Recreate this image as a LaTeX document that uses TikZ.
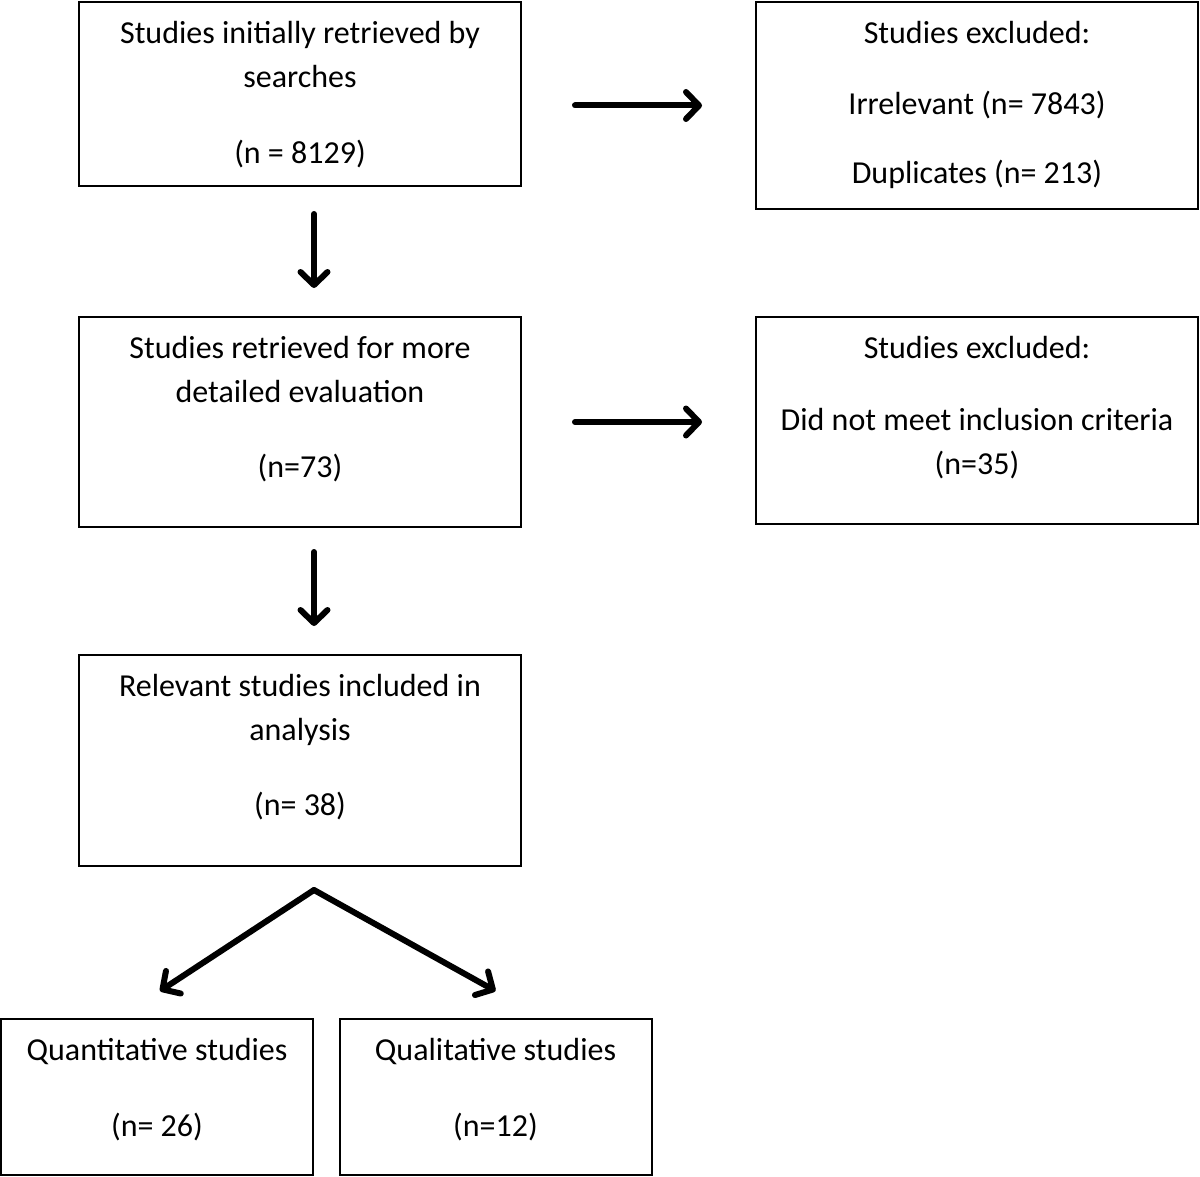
\documentclass[tikz,border=0pt]{standalone}
\usepackage{fontspec}
\setmainfont{Carlito}
\usetikzlibrary{positioning}
\usetikzlibrary{arrows.meta}

\tikzset{
	box/.style={draw, line width=1pt, minimum width=221pt, minimum height=#1, inner sep=0pt},
	box/.default=105pt,
	smallbox/.style={draw, line width=1pt, minimum width=156pt, minimum height=78pt, inner sep=0pt},
	txt/.style={align=center, inner sep=0pt, font=\fontsize{16}{22}\selectfont},
	arr/.style={line width=3pt, line cap=round, -{Straight Barb[length=6.5pt,width=13.5pt,round]}}
}

\begin{document}
\begin{tikzpicture}[x=0.5pt,y=-0.5pt]
	\useasboundingbox (0,0) rectangle (1200,1177);
	\node[box=92pt] (search) at (300,94) {};%search
	\node[box=103.5pt] (excl1) at (977,105.5) {};%excluded 1
	\node[box] (retr) at (300,422) {};%retrieved
	\node[box=103.5pt] (excl2) at (977,420.5) {};%excluded 2
	\node[box=105.5pt] (incl) at (300,760.5) {};%included
	\node[smallbox] (quant) at (157,1097) {};%quantitative
	\node[smallbox] (qual) at (495.5,1097) {};%qualitative
	\node[txt, below=10pt of search.north] (search-t) {Studies initially retrieved by\\searches\\[16pt](n = 8129)};
	\node[txt, below=10pt of excl1.north] (excl1-t) {Studies excluded:\\[13.5pt]Irrelevant (n= 7843)\\[12.5pt]Duplicates (n= 213)};
	\node[txt, below=10pt of retr.north] (retr-t) {Studies retrieved for more\\detailed evaluation\\[15.5pt](n=73)};
	\node[txt, below=10pt of excl2.north] (excl2-t) {Studies excluded:\\[14pt]Did not meet inclusion criteria\\(n=35)};
	\node[txt, below=10pt of incl.north] (incl-t) {Relevant studies included in\\analysis\\[15.5pt](n= 38)};
	\node[txt, below=10pt of quant.north] (quant-t) {Quantitative studies\\[16pt](n= 26)};
	\node[txt, below=10pt of qual.north] (qual-t) {Qualitative studies\\[16pt](n=12)};
	\draw[arr, shorten <=26.5pt, shorten >=26.5pt] (search.east |- excl1.west) -- (excl1.west);
	\draw[arr, shorten <=26.5pt, shorten >=26.5pt] (retr.east) -- (retr.east -| excl2.west);
	\draw[arr, shorten <=13.5pt, shorten >=14pt] ([xshift=7pt]search.south) -- ([xshift=7pt]retr.north);
	\draw[arr, shorten <=12pt, shorten >=14pt] ([xshift=7pt]retr.south) -- ([xshift=7pt]incl.north);
	\coordinate (split) at ([xshift=7pt,yshift=-11.5pt]incl.south);
	\draw[arr] (split) -- ([xshift=1.5pt,yshift=13.5pt]quant.north);
	\draw[arr] (split) -- ([yshift=13.5pt]qual.north);
\end{tikzpicture}
\end{document}
